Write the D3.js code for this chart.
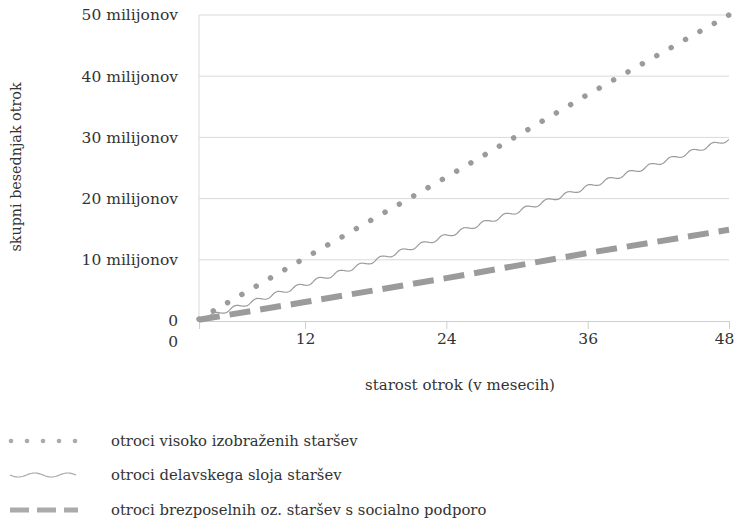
<!DOCTYPE html>
<html>
<head>
<meta charset="utf-8">
<script src="https://cdn.jsdelivr.net/npm/d3@7"></script>
<style>
  body { margin: 0; background: #fff; }
  text { font-family: "DejaVu Serif", serif; fill: #333; }
</style>
</head>
<body>
<div id="chart"></div>
<script>
// months (first point sits on the y axis)
let months = [3, 12, 24, 36, 48];
let highEdu = [0.3, 10.3, 23.5, 37, 50];
let working = [0.2, 6.0, 13.9, 21.9, 29.7];
let welfare = [0.2, 3.1, 7.0, 11.1, 14.9];
let yTicks = [0, 10, 20, 30, 40, 50];
let xTicks = [12, 24, 36, 48];
let seriesNames = [
    "otroci visoko izobraženih staršev",
    "otroci delavskega sloja staršev",
    "otroci brezposelnih oz. staršev s socialno podporo"
];

let W = 735, H = 521;
let margin = { top: 15, right: 6, bottom: 200, left: 199 };
let grey = "#9b9b9d";

let svg = d3.select("#chart").append("svg")
    .attr("width", W)
    .attr("height", H);

let x = d3.scaleLinear().domain([3, 48]).range([margin.left, W - margin.right]);
let y = d3.scaleLinear().domain([0, 50]).range([H - margin.bottom, margin.top]);

// gridlines
svg.selectAll(".grid")
    .data(yTicks.filter(d => d > 0))
    .enter().append("line")
    .attr("x1", x(3)).attr("x2", x(48))
    .attr("y1", d => y(d)).attr("y2", d => y(d))
    .style("stroke", "#d9d9d9").style("stroke-width", 1);

// left axis line
svg.append("line")
    .attr("x1", x(3)).attr("x2", x(3))
    .attr("y1", y(0)).attr("y2", y(50))
    .style("stroke", "#d9d9d9");

// x axis
let xAxis = svg.append("g")
    .attr("transform", "translate(0," + y(0) + ")")
    .call(d3.axisBottom(x).tickValues(xTicks).tickSize(8).tickPadding(4));
xAxis.select(".domain").style("stroke", "#cfcfcf");
xAxis.selectAll(".tick line").style("stroke", "#cfcfcf");
xAxis.selectAll("text").style("font-size", "15.5px").style("font-family", "DejaVu Serif").attr("fill", "#333")
    .attr("dx", d => d === 48 ? -5 : 0);

// y labels
svg.selectAll(".yLabel")
    .data(yTicks)
    .enter().append("text")
    .attr("x", 178)
    .attr("y", d => y(d))
    .attr("dy", "0.35em")
    .style("text-anchor", "end")
    .style("font-size", "15.5px")
    .text(d => d === 0 ? "0" : d + " milijonov");

// the lone "0" under the y labels
svg.append("text")
    .attr("x", 178).attr("y", y(0) + 21)
    .attr("dy", "0.35em")
    .style("text-anchor", "end")
    .style("font-size", "15.5px")
    .text("0");

// axis titles
svg.append("text")
    .attr("transform", "translate(21," + 167 + ") rotate(-90)")
    .style("text-anchor", "middle")
    .style("font-size", "14.3px")
    .text("skupni besednjak otrok");

svg.append("text")
    .attr("x", 460).attr("y", 385)
    .attr("dy", "0.35em")
    .style("text-anchor", "middle")
    .style("font-size", "15px")
    .text("starost otrok (v mesecih)");

// wavy path along a polyline
function wavy(pts, period, amp) {
    let out = [];
    for (let i = 0; i < pts.length - 1; i++) {
        let [x0, y0] = pts[i], [x1, y1] = pts[i + 1];
        let len = Math.hypot(x1 - x0, y1 - y0);
        let nx = -(y1 - y0) / len, ny = (x1 - x0) / len;
        for (let s = 0; s <= len; s += 1) {
            let t = s / len;
            let off = amp * Math.sin(2 * Math.PI * (out.length) / period);
            out.push([x0 + (x1 - x0) * t + nx * off, y0 + (y1 - y0) * t + ny * off]);
        }
    }
    return d3.line()(out);
}

let line = d3.line().x((d, i) => x(months[i])).y(d => y(d));

// dashed series
svg.append("path")
    .attr("d", line(welfare))
    .style("fill", "none")
    .style("stroke", grey)
    .style("stroke-width", 6)
    .style("stroke-dasharray", "21 10");

// wavy series
svg.append("path")
    .attr("d", wavy(working.map((d, i) => [x(months[i]), y(d)]), 22, 1.9))
    .style("fill", "none")
    .style("stroke", grey)
    .style("stroke-width", 1.2);

// dotted series
let dots = svg.append("path")
    .attr("d", line(highEdu))
    .style("fill", "none")
    .style("stroke", grey)
    .style("stroke-width", 5.5)
    .style("stroke-linecap", "round");
let L = dots.node().getTotalLength();
dots.style("stroke-dasharray", "0.01 " + (L / 37 - 0.02));

// legend
let legY = [441, 475, 510];
let lg = svg.append("g");
lg.selectAll("circle")
    .data(d3.range(5))
    .enter().append("circle")
    .attr("cx", d => 11 + d * 16)
    .attr("cy", legY[0])
    .attr("r", 2.3)
    .style("fill", "#aaa");
lg.append("path")
    .attr("d", wavy([[10, legY[1]], [76, legY[1]]], 33, 2))
    .style("fill", "none").style("stroke", "#aaa").style("stroke-width", 1.2);
lg.append("path")
    .attr("d", d3.line()([[10, legY[2]], [78, legY[2]]]))
    .style("fill", "none").style("stroke", "#aaa").style("stroke-width", 5)
    .style("stroke-dasharray", "19 8");
lg.selectAll(".legText")
    .data(seriesNames)
    .enter().append("text")
    .attr("x", 111)
    .attr("y", (d, i) => legY[i])
    .attr("dy", "0.35em")
    .style("font-size", "14.8px")
    .text(d => d);
</script>
</body>
</html>
